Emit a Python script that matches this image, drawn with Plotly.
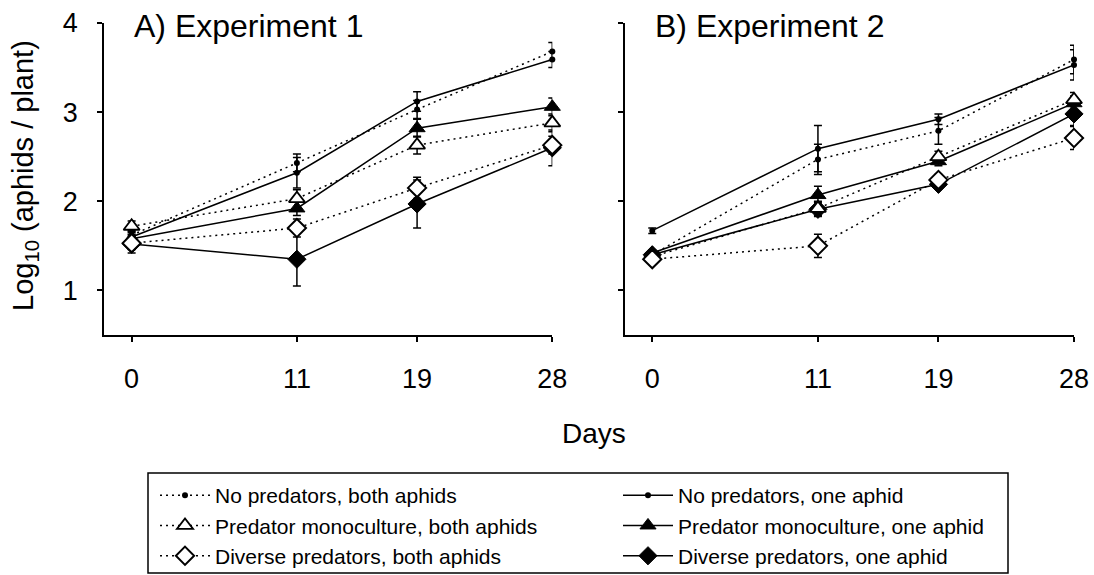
import plotly.graph_objects as go

days = [0, 11, 19, 28]
x_ticks = [0, 11, 19, 28]
y_ticks = [1, 2, 3, 4]

series_names = [
    "No predators, both aphids",
    "No predators, one aphid",
    "Predator monoculture, both aphids",
    "Predator monoculture, one aphid",
    "Diverse predators, both aphids",
    "Diverse predators, one aphid",
]

# Experiment 1 (panel A)
exp1_np_both = [1.62, 2.43, 3.03, 3.68]
exp1_np_one = [1.60, 2.32, 3.12, 3.59]
exp1_pm_both = [1.72, 2.03, 2.63, 2.88]
exp1_pm_one = [1.58, 1.92, 2.82, 3.06]
exp1_dp_both = [1.53, 1.70, 2.15, 2.63]
exp1_dp_one = [1.52, 1.35, 1.97, 2.60]

exp1_np_both_err = [0.05, 0.10, 0.10, 0.10]
exp1_np_one_err = [0.05, 0.17, 0.11, 0.09]
exp1_pm_both_err = [0.06, 0.10, 0.10, 0.10]
exp1_pm_one_err = [0.05, 0.08, 0.10, 0.10]
exp1_dp_both_err = [0.07, 0.10, 0.12, 0.10]
exp1_dp_one_err = [0.10, 0.30, 0.27, 0.20]

# Experiment 2 (panel B)
exp2_np_both = [1.40, 2.47, 2.79, 3.59]
exp2_np_one = [1.67, 2.59, 2.92, 3.53]
exp2_pm_both = [1.38, 1.92, 2.50, 3.14]
exp2_pm_one = [1.42, 2.07, 2.45, 3.10]
exp2_dp_both = [1.35, 1.50, 2.24, 2.71]
exp2_dp_one = [1.40, 1.91, 2.19, 2.98]

exp2_np_both_err = [0.03, 0.17, 0.15, 0.16]
exp2_np_one_err = [0.03, 0.26, 0.06, 0.17]
exp2_pm_both_err = [0.03, 0.08, 0.06, 0.08]
exp2_pm_one_err = [0.03, 0.10, 0.05, 0.08]
exp2_dp_both_err = [0.04, 0.13, 0.06, 0.13]
exp2_dp_one_err = [0.03, 0.08, 0.04, 0.13]

FONT = "Liberation Sans, Arial, sans-serif"
DOT = "2px,4px"

styles = {
    "No predators, both aphids": dict(dash=DOT, symbol="circle", size=6, fill="black", lw=0, leg="legend"),
    "No predators, one aphid": dict(dash="solid", symbol="circle", size=6, fill="black", lw=0, leg="legend2"),
    "Predator monoculture, both aphids": dict(dash=DOT, symbol="triangle-up", size=14, fill="white", lw=1.8, leg="legend"),
    "Predator monoculture, one aphid": dict(dash="solid", symbol="triangle-up", size=14, fill="black", lw=1, leg="legend2"),
    "Diverse predators, both aphids": dict(dash=DOT, symbol="diamond", size=14, fill="white", lw=2, leg="legend"),
    "Diverse predators, one aphid": dict(dash="solid", symbol="diamond", size=14, fill="black", lw=1, leg="legend2"),
}

exp1 = {
    series_names[0]: (exp1_np_both, exp1_np_both_err),
    series_names[1]: (exp1_np_one, exp1_np_one_err),
    series_names[2]: (exp1_pm_both, exp1_pm_both_err),
    series_names[3]: (exp1_pm_one, exp1_pm_one_err),
    series_names[4]: (exp1_dp_both, exp1_dp_both_err),
    series_names[5]: (exp1_dp_one, exp1_dp_one_err),
}
exp2 = {
    series_names[0]: (exp2_np_both, exp2_np_both_err),
    series_names[1]: (exp2_np_one, exp2_np_one_err),
    series_names[2]: (exp2_pm_both, exp2_pm_both_err),
    series_names[3]: (exp2_pm_one, exp2_pm_one_err),
    series_names[4]: (exp2_dp_both, exp2_dp_both_err),
    series_names[5]: (exp2_dp_one, exp2_dp_one_err),
}

# draw "one aphid" (filled) first, "both aphids" (open) on top
draw_order = [1, 3, 5, 0, 2, 4]

fig = go.Figure()
for panel, data, xa, ya in [(1, exp1, "x", "y"), (2, exp2, "x2", "y2")]:
    for idx in draw_order:
        name = series_names[idx]
        vals, errs = data[name]
        st = styles[name]
        fig.add_trace(go.Scatter(
            x=days, y=vals, name=name, xaxis=xa, yaxis=ya,
            mode="lines+markers",
            line=dict(color="black", width=1.5, dash=st["dash"]),
            marker=dict(symbol=st["symbol"], size=st["size"], color=st["fill"],
                        line=dict(color="black", width=st["lw"])),
            error_y=dict(type="data", array=errs, visible=True, color="black",
                         thickness=1.5, width=4),
            showlegend=(panel == 1),
            legend=st["leg"],
            legendrank=idx + 1,
            cliponaxis=False,
        ))

W, H = 1094, 575
ML, MR, MT, MB = 104, 20, 23, 240
PW = W - ML - MR
PH = H - MT - MB

axis_common = dict(
    showline=True, linecolor="black", linewidth=1.5, mirror=False,
    ticks="outside", ticklen=5, tickwidth=1.5, tickcolor="black",
    showgrid=False, zeroline=False, automargin=False,
    tickfont=dict(family=FONT, size=27, color="black"),
)

legend_common = dict(
    orientation="v", xref="container", yref="container",
    xanchor="left", yanchor="top", borderwidth=0,
    bgcolor="rgba(255,255,255,0)",
    font=dict(family=FONT, size=21, color="black"),
    itemwidth=50, traceorder="normal", tracegroupgap=0,
)

fig.update_layout(
    width=W, height=H,
    margin=dict(l=ML, r=MR, t=MT, b=MB, autoexpand=False),
    paper_bgcolor="white", plot_bgcolor="white",
    font=dict(family=FONT, color="black"),
    xaxis=dict(domain=[0, (552.3 - ML) / PW], range=[-1.84, 28], anchor="y",
               tickvals=x_ticks, ticklabelstandoff=14, **axis_common),
    xaxis2=dict(domain=[(625 - ML) / PW, 1], range=[-1.81, 28], anchor="y2",
                tickvals=x_ticks, ticklabelstandoff=14, **axis_common),
    yaxis=dict(domain=[0, 1], range=[0.5, 4], tickvals=y_ticks, anchor="x",
               ticklabelstandoff=14, **axis_common),
    yaxis2=dict(domain=[0, 1], range=[0.5, 4], tickvals=y_ticks,
                showticklabels=False, anchor="x2", **axis_common),
    legend=dict(x=155 / W, y=1 - 475 / H, **legend_common),
    legend2=dict(x=618 / W, y=1 - 475 / H, **legend_common),
    showlegend=True,
)

def px_x(px):
    return (px - ML) / PW

def px_y(py):
    return 1 - (py - MT) / PH

# legend frame
fig.add_shape(type="rect", xref="paper", yref="paper",
              x0=px_x(148), x1=px_x(1008), y0=px_y(473), y1=px_y(573),
              line=dict(color="black", width=1.5), fillcolor="rgba(0,0,0,0)",
              layer="below")

fig.add_annotation(x=px_x(131.7), y=px_y(26), xref="paper", yref="paper",
                   text="A) Experiment 1", showarrow=False, xanchor="left",
                   yanchor="middle", font=dict(family=FONT, size=32, color="black"))
fig.add_annotation(x=px_x(653), y=px_y(26), xref="paper", yref="paper",
                   text="B) Experiment 2", showarrow=False, xanchor="left",
                   yanchor="middle", font=dict(family=FONT, size=32, color="black"))
fig.add_annotation(x=px_x(594), y=px_y(433), xref="paper", yref="paper",
                   text="Days", showarrow=False, xanchor="center",
                   yanchor="middle", font=dict(family=FONT, size=28, color="black"))
fig.add_annotation(x=px_x(25), y=px_y(176), xref="paper", yref="paper",
                   text="Log<sub>10</sub> (aphids / plant)", showarrow=False,
                   textangle=-90, xanchor="center", yanchor="middle",
                   font=dict(family=FONT, size=29, color="black"))

fig.write_html("out.html")
